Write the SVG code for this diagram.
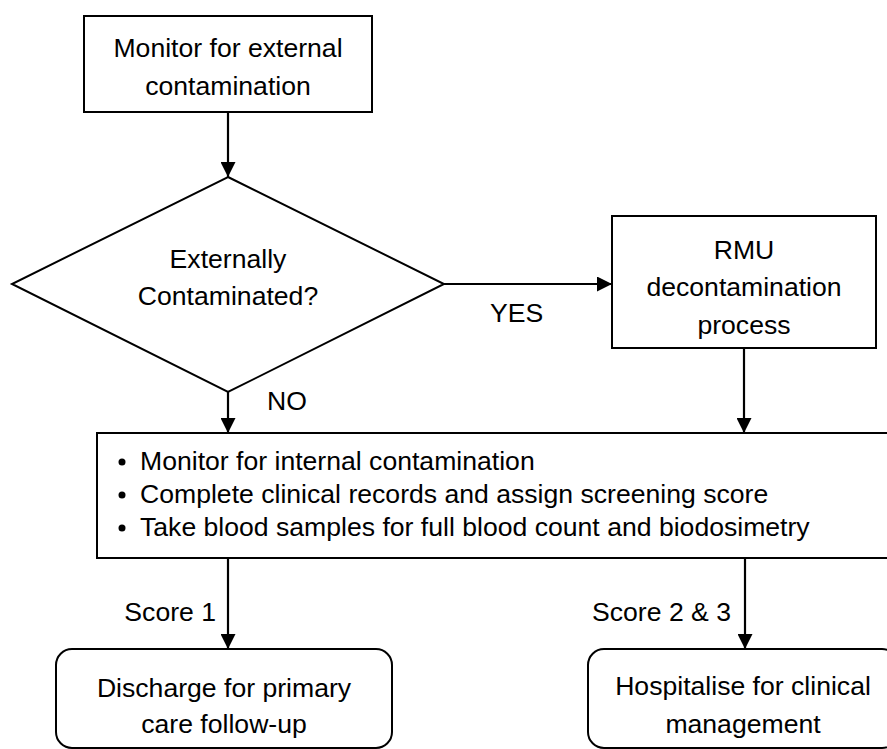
<svg xmlns="http://www.w3.org/2000/svg" width="887" height="749" viewBox="0 0 887 749">
  <defs>
    <marker id="arrow" viewBox="0 0 15 15" refX="15" refY="7.5" markerWidth="15" markerHeight="15" markerUnits="userSpaceOnUse" orient="auto">
      <path d="M0,0 L15,7.5 L0,15 Z" fill="#000"/>
    </marker>
    <style>
      .shape { fill: #fff; stroke: #000; stroke-width: 2; }
      .edge { fill: none; stroke: #000; stroke-width: 2.2; marker-end: url(#arrow); }
      text { font-family: "Liberation Sans", Arial, sans-serif; font-size: 26.6px; fill: #000; }
      .c { text-anchor: middle; }
      .r { text-anchor: end; }
    </style>
  </defs>
  <rect width="887" height="749" fill="#fff"/>

  <g id="connectors">
    <line class="edge" x1="228" y1="112" x2="228" y2="177"/>
    <line class="edge" x1="444" y1="284" x2="612" y2="284"/>
    <line class="edge" x1="228" y1="392" x2="228" y2="433"/>
    <line class="edge" x1="744" y1="348" x2="744" y2="433"/>
    <line class="edge" x1="228" y1="558" x2="228" y2="649"/>
    <line class="edge" x1="745" y1="558" x2="745" y2="649"/>
    <text x="490" y="322">YES</text>
    <text x="267" y="410">NO</text>
    <text class="r" x="216" y="621">Score 1</text>
    <text class="r" x="731" y="621">Score 2 &amp; 3</text>
  </g>

  <g id="monitor-external">
    <rect class="shape" x="84" y="16" width="288" height="96"/>
    <text class="c" x="228" y="57">Monitor for external</text>
    <text class="c" x="228" y="95">contamination</text>
  </g>

  <g id="decision">
    <polygon class="shape" points="228,177 444,284 228,392 12,284"/>
    <text class="c" x="228" y="268">Externally</text>
    <text class="c" x="228" y="305">Contaminated?</text>
  </g>

  <g id="rmu-decon">
    <rect class="shape" x="612" y="216" width="264" height="132"/>
    <text class="c" x="744" y="259">RMU</text>
    <text class="c" x="744" y="296">decontamination</text>
    <text class="c" x="744" y="334">process</text>
  </g>

  <g id="assessment">
    <rect class="shape" x="97" y="433" width="800" height="125"/>
    <circle cx="122" cy="462" r="3.5" fill="#000"/>
    <circle cx="122" cy="495" r="3.5" fill="#000"/>
    <circle cx="122" cy="528" r="3.5" fill="#000"/>
    <text x="140" y="470">Monitor for internal contamination</text>
    <text x="140" y="503">Complete clinical records and assign screening score</text>
    <text x="140" y="536">Take blood samples for full blood count and biodosimetry</text>
  </g>

  <g id="discharge">
    <rect class="shape" x="56" y="649" width="336" height="99" rx="16" ry="16"/>
    <text class="c" x="224" y="697">Discharge for primary</text>
    <text class="c" x="224" y="733">care follow-up</text>
  </g>

  <g id="hospitalise">
    <rect class="shape" x="588" y="649" width="310" height="99" rx="16" ry="16"/>
    <text class="c" x="743" y="695">Hospitalise for clinical</text>
    <text class="c" x="743" y="733">management</text>
  </g>
</svg>
